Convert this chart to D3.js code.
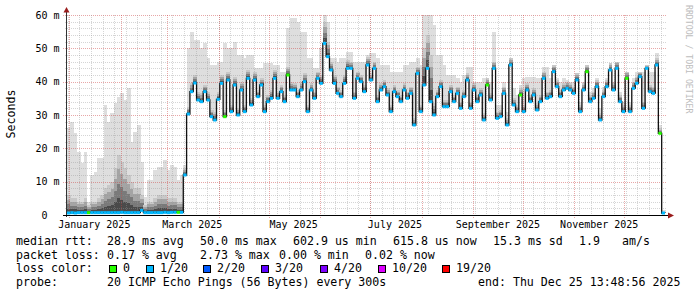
<!DOCTYPE html>
<html>
<head>
<meta charset="utf-8">
<script src="https://cdn.jsdelivr.net/npm/d3@7"></script>
<style>
  body { margin: 0; background: #fff; }
  svg text { font-family: "DejaVu Sans Mono", monospace; white-space: pre; }
</style>
</head>
<body>
<svg id="chart" width="697" height="297"></svg>
<script>
// 2-day steps over the last 360 days, values in ms
var endTime = new Date(2025, 11, 25, 13, 48, 56)
var stepDays = 2

var medianMs = [
  0.6,0.7,0.6,0.7,0.7,0.7,0.7,0.7,0.7,0.7,
  0.7,0.7,0.7,0.7,0.7,0.7,0.8,0.7,0.7,0.7,
  0.7,0.7,1.4,0.7,0.7,0.7,0.7,0.7,0.7,0.8,
  0.7,0.8,0.8,0.8,0.8,12,30.3,37,39.6,34.5,
  34,37,34.5,29.5,28.5,34.7,39.5,29.5,40.5,31,
  39,30,37.5,31,41,33,40.5,35.5,39,31,
  34,35,41,35,37,34,42,37.5,37.5,35.5,
  37.5,40,31,37.5,35,41,39.5,51.5,47.5,43.5,
  39.5,36.5,35.5,39.5,44,44,35,41,40,37,
  45,40.5,44,34,37.5,38.5,36,31,37,35.5,
  34,37.5,35,36.5,27,42.5,31,39,44,34,
  30,35.5,38.5,32.5,32.5,37,34,36.5,32,35.5,
  40.5,32,37.5,34,36,28.5,39,34.5,44,29,
  29.5,36.5,27,45,33,31,36,31,37.5,34,
  36,31.5,34,41,35,35.5,43,38.5,35.5,37.5,
  38,37.5,36.5,40.5,31,37.5,43,34,35,38.5,
  28.5,35.5,38.5,43.5,37.5,44,34,31,41,31,
  38,39.5,41.5,32,44,37,36.5,45,24.5,0.6
]

// highest ping of each step (outer light smoke)
var maxMs = [
  26,28,24.5,19,15.5,19,4,12,13,17,
  17,33,28,30.5,33.5,35.5,36.5,34.5,38,22,
  25,27,16,5.5,10.5,10.5,13.5,14.5,14.5,16.5,
  13.5,15,14.5,10.5,12,15,50,55,52.5,52.5,
  50,51.5,47,45,45,46,46,51.5,50,50,
  52,48,48,47,48,48,44,44,44,45.5,
  45.5,45.5,45,45,43,43,56,59,59,58,
  55,55,47,47,44,44,50,60,58,47,
  47,46,47,47,49,49,46,46,46,46,
  48,48.5,48.5,47,45,45,45,43,43,43,
  43,45,45,46,46,47,45,60,60,60,
  57,48,48,45,42,42,42,41,40,42,
  44.5,44.5,40,40,40,41,41,40,55,33,
  33,40,31,47,38,36,39,41,41.5,41.5,
  41.5,41,41,44.5,44.5,41,45,41,40,41,
  40.5,40,40,42.5,34,40,45,37,38,41,
  32,38.5,41,45.5,40,46,37,34,43,34,
  41,43,43,43,45,43,43,48.5,27,1.5
]

// top of the denser (darker) smoke just above the median
var hiMs = [
  6,5,5,4,4,5,3,4,4,5,
  6,8,9,10,14,18,16,14,12,10,
  8,8,6,3,4,4,5,6,6,6,
  5,5,5,4,4,14,32.5,39.5,42,37,
  36.5,39,37,31.5,31,37,42,31.5,43,33,
  41.5,32,40,33,43.5,35,43,37.5,41,33,
  36,37.5,43.5,37,39,36,44.5,40,39.5,37.5,
  40,42.5,33,39.5,37,43,42,58,52,46,
  42,38.5,37.5,42,46.5,46,37,43,42,39,
  47.5,42.5,46,36,39.5,40.5,38,33,39,37.5,
  36,39.5,37,38.5,29,44.5,33,50,54,48,
  33.5,37.5,40.5,34.5,34.5,39,36,38.5,34,37.5,
  42.5,34,39.5,36,38,30.5,41,36.5,46,31,
  31.5,38.5,29,47,35,33,38,33,39.5,36,
  38,33.5,36,43,37,37.5,45,40.5,37.5,39.5,
  40,39.5,38.5,42.5,33,39.5,45,36,37,40.5,
  30.5,37.5,40.5,45.5,39.5,46,36,33,43,33,
  40,41.5,43,34,45,39,38.5,47,26,1
]

// steps with no packet loss (green), the rest are 1/20
var lossZero = [6, 33, 47, 66, 126, 136, 156, 168, 178]

var rttStats = ['28.9 ms avg', '50.0 ms max', '602.9 us min', '615.8 us now', '15.3 ms sd', '1.9', 'am/s']
var lossStats = ['0.17 % avg', '2.73 % max', '0.00 % min', '0.02 % now']
var lossNames = ['0', '1/20', '2/20', '3/20', '4/20', '10/20', '19/20']
var lossColors = ['#26ff00', '#00b8ff', '#0059ff', '#5e00ff', '#7e00ff', '#dd00ff', '#ff0000']
var probeText = '20 ICMP Echo Pings (56 Bytes) every 300s'
var endText = 'end: Thu Dec 25 13:48:56 2025'

// layout
var X0 = 67, X1 = 665, Y0 = 215, Y1 = 15
var svg = d3.select('#chart')
svg.append('rect').attr('width', 697).attr('height', 297).attr('fill', '#fff')

var startTime = d3.timeDay.offset(endTime, -360)
var x = d3.scaleTime().domain([startTime, endTime]).range([X0, X1])
var y = d3.scaleLinear().domain([0, 60]).range([Y0, Y1])

var steps = medianMs.map(function(m, i) {
  var t0 = d3.timeDay.offset(startTime, i * stepDays)
  var t1 = i == medianMs.length - 1 ? endTime : d3.timeDay.offset(startTime, (i + 1) * stepDays)
  var top = Math.max(m, maxMs[i])
  return {i: i, t0: t0, t1: t1, med: m, hi: Math.max(m, Math.min(hiMs[i], top)), max: top}
})

// smoke: light outer part, then darker bands down toward the median
var smoke = svg.append('g').attr('shape-rendering', 'crispEdges')
smoke.selectAll('rect.outer')
  .data(steps)
  .join('rect')
  .attr('class', 'outer')
  .attr('x', d => x(d.t0))
  .attr('width', d => x(d.t1) - x(d.t0) + 0.5)
  .attr('y', d => y(d.max))
  .attr('height', d => y(d.hi) - y(d.max))
  .attr('fill', '#dedede')

var bandColors = ['#4a4a4a', '#7a7a7a', '#a4a4a4', '#c8c8c8']
bandColors.forEach(function(c, k) {
  smoke.selectAll('rect.band' + k)
    .data(steps)
    .join('rect')
    .attr('class', 'band' + k)
    .attr('x', d => x(d.t0))
    .attr('width', d => x(d.t1) - x(d.t0) + 0.5)
    .attr('y', d => y(d.med + (d.hi - d.med) * (k + 1) / 4))
    .attr('height', d => y(d.med + (d.hi - d.med) * k / 4) - y(d.med + (d.hi - d.med) * (k + 1) / 4))
    .attr('fill', c)
})

// grid
var minorColor = 'rgba(150,150,150,0.4)'
var majorColor = 'rgba(205,60,60,0.45)'
var grid = svg.append('g').attr('shape-rendering', 'crispEdges')

var hMinor = d3.range(2, 60, 2).filter(v => v % 10 != 0)
var hMajor = d3.range(10, 61, 10)
grid.selectAll('line.hmin').data(hMinor).join('line')
  .attr('class', 'hmin')
  .attr('x1', X0 - 2).attr('x2', X1 + 1)
  .attr('y1', d => Math.round(y(d)) + 0.5).attr('y2', d => Math.round(y(d)) + 0.5)
  .attr('stroke', minorColor).attr('stroke-dasharray', '1,1')
grid.selectAll('line.hmaj').data(hMajor).join('line')
  .attr('class', 'hmaj')
  .attr('x1', X0 - 4).attr('x2', X1 + 1)
  .attr('y1', d => Math.round(y(d)) + 0.5).attr('y2', d => Math.round(y(d)) + 0.5)
  .attr('stroke', majorColor).attr('stroke-dasharray', '1,1')

var vMinor = []
for (var t = d3.timeDay.ceil(startTime); t < endTime; t = d3.timeDay.offset(t, 7)) vMinor.push(t)
var vMajor = d3.timeMonth.range(d3.timeMonth.ceil(startTime), endTime)
grid.selectAll('line.vmin').data(vMinor).join('line')
  .attr('class', 'vmin')
  .attr('x1', d => Math.round(x(d)) + 0.5).attr('x2', d => Math.round(x(d)) + 0.5)
  .attr('y1', Y1).attr('y2', Y0 + 2)
  .attr('stroke', minorColor).attr('stroke-dasharray', '1,1')
grid.selectAll('line.vmaj').data(vMajor).join('line')
  .attr('class', 'vmaj')
  .attr('x1', d => Math.round(x(d)) + 0.5).attr('x2', d => Math.round(x(d)) + 0.5)
  .attr('y1', Y1).attr('y2', Y0 + 3)
  .attr('stroke', majorColor).attr('stroke-dasharray', '1,1')

// median line (black steps) with loss-coloured level marks
var medLine = d3.line()
  .x(d => x(d.t))
  .y(d => y(d.v))
  .curve(d3.curveStepAfter)
var medPts = steps.map(d => ({t: d.t0, v: d.med}))
medPts.push({t: endTime, v: medianMs[medianMs.length - 1]})
svg.append('path')
  .datum(medPts)
  .attr('d', medLine)
  .attr('fill', 'none')
  .attr('stroke', '#111')
  .attr('stroke-width', 1.3)

svg.append('g').selectAll('line')
  .data(steps)
  .join('line')
  .attr('x1', d => x(d.t0))
  .attr('x2', d => x(d.t1))
  .attr('y1', d => y(d.med))
  .attr('y2', d => y(d.med))
  .attr('stroke', d => lossZero.indexOf(d.i) >= 0 ? lossColors[0] : lossColors[1])
  .attr('stroke-width', 3)

// axes
var axis = svg.append('g').attr('shape-rendering', 'crispEdges')
axis.append('line').attr('x1', X0 - 0.5).attr('x2', X0 - 0.5).attr('y1', Y0 + 2).attr('y2', 11)
  .attr('stroke', '#333')
axis.append('line').attr('x1', X0 - 4).attr('x2', X1 + 4).attr('y1', Y0 + 0.5).attr('y2', Y0 + 0.5)
  .attr('stroke', '#000')
svg.append('path').attr('d', 'M63.5,12.5 L66.5,7 L69.5,12.5 Z').attr('fill', '#9a1c1c')
svg.append('path').attr('d', 'M668,212.5 L674,215.5 L668,218.5 Z').attr('fill', '#9a1c1c')

// y labels
svg.append('g').attr('font-size', '10px').attr('text-anchor', 'end')
  .selectAll('text').data(d3.range(0, 61, 10)).join('text')
  .attr('x', 59.5)
  .attr('y', d => y(d) + 3.7)
  .text(d => d == 0 ? '0  ' : d + ' m')

// x labels, centred half a month after each second month start
var labelMonths = d3.timeMonth.every(2).range(d3.timeMonth.ceil(startTime), endTime)
var fmt = d3.timeFormat('%B %Y')
svg.append('g').attr('font-size', '10px').attr('text-anchor', 'middle')
  .selectAll('text').data(labelMonths).join('text')
  .attr('x', d => x(d3.timeDay.offset(d, 15)))
  .attr('y', 228)
  .text(d => fmt(d))

svg.append('text')
  .attr('transform', 'translate(15,114) rotate(-90)')
  .attr('text-anchor', 'middle')
  .attr('font-size', '11.6px')
  .text('Seconds')

svg.append('text')
  .attr('transform', 'translate(686,5) rotate(90)')
  .attr('font-size', '8.2px')
  .attr('fill', '#bdbdbd')
  .text('RRDTOOL / TOBI OETIKER')

// legend
var legend = svg.append('g').attr('font-size', '11.6px').attr('fill', '#000')
function legendText(lx, ly, s) {
  legend.append('text').attr('x', lx).attr('y', ly).text(s)
}
var rowY = [245, 258.5, 272, 285.5]
var rttX = [107, 200, 293, 393, 493, 579, 622]
var lossX = [107, 200, 279, 365]
var boxX = [109, 146, 203, 261, 320, 378, 442]

legendText(16, rowY[0], 'median rtt:')
rttStats.forEach((s, k) => legendText(rttX[k], rowY[0], s))
legendText(16, rowY[1], 'packet loss:')
lossStats.forEach((s, k) => legendText(lossX[k], rowY[1], s))
legendText(16, rowY[2], 'loss color:')
legend.selectAll('rect').data(lossColors).join('rect')
  .attr('x', (d, k) => boxX[k] + 0.5).attr('y', 265.5)
  .attr('width', 7).attr('height', 7)
  .attr('fill', d => d).attr('stroke', '#000').attr('stroke-width', 1)
lossNames.forEach((s, k) => legendText(boxX[k] + 14, rowY[2], s))
legendText(16, rowY[3], 'probe:')
legendText(107, rowY[3], probeText)
legendText(478, rowY[3], endText)
</script>
</body>
</html>
